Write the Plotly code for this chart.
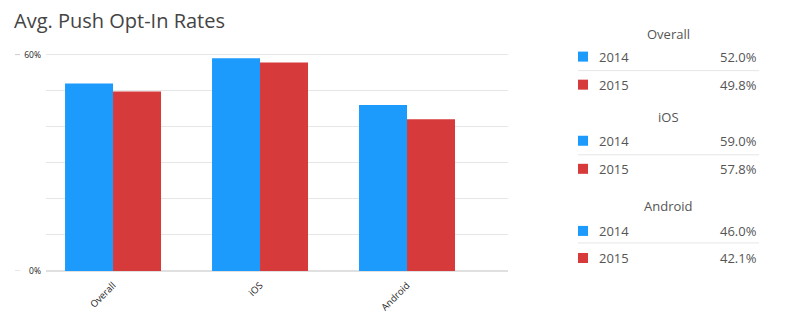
import plotly.graph_objects as go

# ---- data ----
categories = ["Overall", "iOS", "Android"]
years = ["2014", "2015"]
values_2014 = [52.0, 59.0, 46.0]
values_2015 = [49.8, 57.8, 42.1]
colors = ["#1D9BFD", "#D63A3A"]
y_ticks = [0, 10, 20, 30, 40, 50, 60]
y_labels = ["0%", "", "", "", "", "", "60%"]

W, H = 800, 336
YMAX = 61
L, R, B = 46, 292, 65
T = 271 - YMAX * 3.6
PW = W - L - R
PH = H - T - B

def px(x):
    return (x - L) / PW

def py(y):
    return 1 - (y - T) / PH

fig = go.Figure()
for yr, vals, c in zip(years, [values_2014, values_2015], colors):
    fig.add_trace(go.Bar(x=categories, y=vals, name=yr, marker_color=c,
                         marker_line_width=0))

fig.update_layout(
    width=W, height=H,
    margin=dict(l=L, r=R, t=T, b=B),
    plot_bgcolor="white", paper_bgcolor="white",
    barmode="group", bargap=0.347, bargroupgap=0,
    showlegend=False,
    font=dict(family="Open Sans, sans-serif", color="#444"),
    xaxis=dict(range=[-0.456, 2.687], tickangle=-45, showgrid=False,
               ticks="", tickfont=dict(size=9.5, color="#222", family="Open Sans"),
               showline=False, ticklabelstandoff=6),
    yaxis=dict(range=[0, YMAX], tickvals=y_ticks, ticktext=y_labels,
               showgrid=True, gridcolor="#E6E6E6", gridwidth=1,
               zeroline=True, zerolinecolor="#E0E0E0", zerolinewidth=1.5,
               ticks="", tickfont=dict(size=8.5, color="#222", family="Open Sans"),
               ticklabelstandoff=4),
)

# title
fig.add_annotation(text="Avg. Push Opt-In Rates", xref="paper", yref="paper",
                   x=px(12), y=py(21), xanchor="left", yanchor="middle",
                   showarrow=False, font=dict(size=20, color="#444", family="Open Sans"))

# small dashes left of y tick labels
for v in [0, 60]:
    fig.add_shape(type="line", xref="paper", yref="y", x0=px(15), x1=px(20),
                  y0=v, y1=v, line=dict(color="#CCCCCC", width=1))

# legend table
header_y = [34, 117, 206]
row_y = [[57, 85], [141, 169], [231, 258]]
sep_y = [71, 155, 243]
for i, cat in enumerate(categories):
    fig.add_annotation(text=cat, xref="paper", yref="paper", x=px(668), y=py(header_y[i]),
                       xanchor="center", yanchor="middle", showarrow=False,
                       font=dict(size=13, color="#555"))
    for j, (yr, vals, c) in enumerate(zip(years, [values_2014, values_2015], colors)):
        yy = row_y[i][j]
        fig.add_shape(type="rect", xref="paper", yref="paper",
                      x0=px(578), x1=px(588), y0=py(yy - 5), y1=py(yy + 5),
                      fillcolor=c, line_width=0)
        fig.add_annotation(text=yr, xref="paper", yref="paper", x=px(597), y=py(yy),
                           xanchor="left", yanchor="middle", showarrow=False,
                           font=dict(size=13, color="#555"))
        fig.add_annotation(text=f"{vals[i]:.1f}%", xref="paper", yref="paper", x=px(759), y=py(yy),
                           xanchor="right", yanchor="middle", showarrow=False,
                           font=dict(size=13, color="#555"))
    fig.add_shape(type="line", xref="paper", yref="paper", x0=px(578), x1=px(759),
                  y0=py(sep_y[i]), y1=py(sep_y[i]), line=dict(color="#E6E6E6", width=1))

fig.write_html("out.html")
